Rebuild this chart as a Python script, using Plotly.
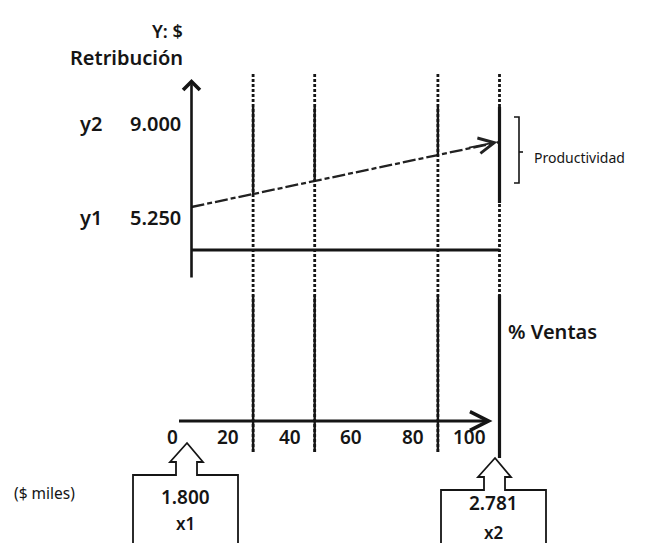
import plotly.graph_objects as go
import numpy as np

# ---------------- data ----------------
pct_ticks = [0, 20, 40, 60, 80, 100]          # % Ventas tick labels
grid_pct = [20, 40, 80, 100]                   # vertical guide lines
line_pct = [0, 100]                            # retribution line x (% ventas)
line_retrib = [5250, 9000]                     # y1, y2
retrib_names = ["y1", "y2"]
retrib_text = ["5.250", "9.000"]
sales_pct = [0, 100]                           # where x1 / x2 sit on the % axis
sales_values = ["1.800", "2.781"]
sales_names = ["x1", "x2"]

W, H = 648, 543
FONT = "Noto Sans"
INK = "#151515"

# axis ranges (pixel-consistent layout, margins 0)
X0_PX, PX_PER_PCT = 191.5, 3.08
X_RANGE = [-X0_PX / PX_PER_PCT, (W - X0_PX) / PX_PER_PCT]
Y1_PX, PX_PER_UNIT = 207.0, 65.0 / 3750.0
Y_RANGE = [5250 - (H - Y1_PX) / PX_PER_UNIT, 5250 + Y1_PX / PX_PER_UNIT]


def px(xp):
    return xp / W


def py(yp):
    return 1 - yp / H


def data_y_to_paper(v):
    return (v - Y_RANGE[0]) / (Y_RANGE[1] - Y_RANGE[0])


def data_y_to_px(v):
    return (1 - data_y_to_paper(v)) * H


def fnt(size, weight=600):
    return dict(family=FONT, size=size, color=INK, weight=weight)


fig = go.Figure()

# sloped retribution line
fig.add_trace(go.Scatter(
    x=line_pct, y=line_retrib, mode="lines",
    line=dict(color="#222", width=2.3, dash="13px,3px,5px,3px"),
    hoverinfo="skip", showlegend=False))

shapes = []
annotations = []

# vertical guide lines
for g in grid_pct:
    last = g == grid_pct[-1]
    w = 3.2 if last else 2.4
    bottom = 458 if last else 452
    shapes.append(dict(type="line", xref="x", yref="paper", x0=g, x1=g,
                       y0=py(74), y1=py(bottom),
                       line=dict(color=INK, width=2.8, dash="3px,2px")))
    cross = float(np.interp(g, line_pct, line_retrib))
    end_px = 203 if last else data_y_to_px(cross)
    shapes.append(dict(type="line", xref="x", yref="paper", x0=g, x1=g,
                       y0=py(107), y1=py(end_px),
                       line=dict(color=INK, width=w)))
    shapes.append(dict(type="line", xref="x", yref="paper", x0=g, x1=g,
                       y0=py(295), y1=py(bottom),
                       line=dict(color=INK, width=w)))

# upper baseline
shapes.append(dict(type="line", xref="x", yref="paper", x0=line_pct[0], x1=line_pct[-1],
                   y0=py(250), y1=py(250), line=dict(color=INK, width=3)))

# y axis with arrow
annotations.append(dict(xref="x", yref="paper", x=0, y=py(79), ax=0, ay=200,
                        axref="pixel", ayref="pixel", text="", showarrow=True,
                        arrowhead=4, arrowsize=1.25, arrowwidth=2.6, arrowcolor=INK,
                        standoff=0))
# arrow on retribution line
annotations.append(dict(xref="x", yref="y", x=line_pct[-1], y=line_retrib[-1],
                        xshift=-2, ax=-30, ay=6, text="", showarrow=True,
                        arrowhead=5, arrowsize=1.7, arrowwidth=1.8, arrowcolor="#222",
                        standoff=0))
# lower % axis with arrow
annotations.append(dict(xref="x", yref="paper", x=pct_ticks[-1], y=py(421),
                        xshift=-7, ax=-315, ay=0, text="", showarrow=True,
                        arrowhead=5, arrowsize=1.3, arrowwidth=2.8, arrowcolor=INK,
                        standoff=0))

# bracket for Productividad
bx = 519
shapes.append(dict(type="path", xref="paper", yref="paper",
                   path=f"M {px(bx-5)},{py(117)} L {px(bx)},{py(117)} L {px(bx)},{py(183)} L {px(bx-5)},{py(183)}",
                   line=dict(color=INK, width=1.6)))
shapes.append(dict(type="line", xref="paper", yref="paper", x0=px(bx), x1=px(bx+4),
                   y0=py(152), y1=py(152), line=dict(color=INK, width=1.6)))

# callout boxes under x1/x2
tips_px = [443, 458]
text_off = [(54, 80), (45, 74)]
for i, s in enumerate(sales_pct):
    tip_x = X0_PX + s * PX_PER_PCT - 4.5
    ty = tips_px[i]
    hy = ty + 19
    by = ty + 32
    pts = [(tip_x, ty), (tip_x + 16, hy), (tip_x + 10, hy), (tip_x + 10, by),
           (tip_x + 51, by), (tip_x + 51, 560), (tip_x - 54, 560), (tip_x - 54, by),
           (tip_x - 11, by), (tip_x - 11, hy), (tip_x - 17, hy)]
    path = "M " + " L ".join(f"{px(a)},{py(b)}" for a, b in pts) + " Z"
    shapes.append(dict(type="path", xref="paper", yref="paper", path=path,
                       line=dict(color=INK, width=1.8), fillcolor="rgba(0,0,0,0)"))
    annotations.append(dict(xref="x", yref="paper", x=s, y=py(ty + text_off[i][0]), xshift=-6,
                            xanchor="center", yanchor="middle",
                            text=sales_values[i], showarrow=False, font=fnt(19)))
    annotations.append(dict(xref="x", yref="paper", x=s, y=py(ty + text_off[i][1]), xshift=-6,
                            xanchor="center", yanchor="middle",
                            text=sales_names[i], showarrow=False, font=fnt(17)))

# tick labels of % axis
for t in pct_ticks:
    annotations.append(dict(xref="x", yref="paper", x=t, y=py(437), xanchor="right",
                            yanchor="middle", xshift=-12, text=str(t), showarrow=False,
                            font=fnt(19)))

# retribution labels
shifts = [-10, 19]
for name, txt, v, sh in zip(retrib_names, retrib_text, line_retrib, shifts):
    annotations.append(dict(xref="paper", yref="y", x=px(78), y=v, yshift=sh,
                            xanchor="left", yanchor="middle", text=name, showarrow=False,
                            font=fnt(20)))
    annotations.append(dict(xref="paper", yref="y", x=px(183), y=v, yshift=sh,
                            xanchor="right", yanchor="middle", text=txt, showarrow=False,
                            font=fnt(20)))

# titles / labels
annotations += [
    dict(xref="paper", yref="paper", x=px(185), y=py(31), xanchor="right", yanchor="middle",
         text="Y: $", showarrow=False, font=fnt(18)),
    dict(xref="paper", yref="paper", x=px(185), y=py(58), xanchor="right", yanchor="middle",
         text="Retribución", showarrow=False, font=fnt(20)),
    dict(xref="paper", yref="paper", x=px(506), y=py(331), xanchor="left", yanchor="middle",
         text="% Ventas", showarrow=False, font=fnt(20)),
    dict(xref="paper", yref="paper", x=px(532), y=py(158), xanchor="left", yanchor="middle",
         text="Productividad", showarrow=False, font=fnt(14, 400)),
    dict(xref="paper", yref="paper", x=px(12), y=py(493), xanchor="left", yanchor="middle",
         text="($ miles)", showarrow=False, font=fnt(15.5, 400)),
]

fig.update_layout(
    width=W, height=H,
    margin=dict(l=0, r=0, t=0, b=0),
    paper_bgcolor="white", plot_bgcolor="white",
    xaxis=dict(range=X_RANGE, visible=False, fixedrange=True),
    yaxis=dict(range=Y_RANGE, visible=False, fixedrange=True),
    shapes=shapes, annotations=annotations,
    showlegend=False,
)

fig.write_html("out.html", config={"displayModeBar": False},
               post_script="document.body.style.margin='0px';")
